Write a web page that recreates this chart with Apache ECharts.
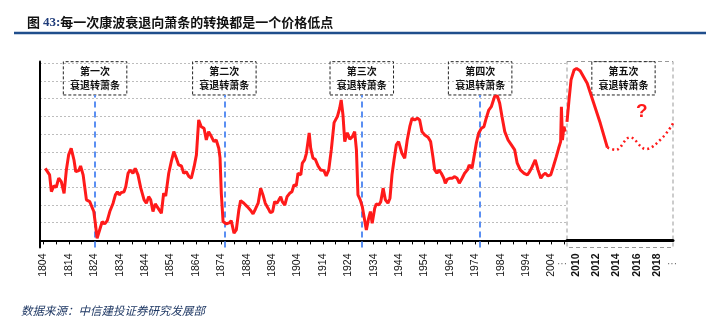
<!DOCTYPE html>
<html><head><meta charset="utf-8">
<script src="https://cdn.jsdelivr.net/npm/echarts@6/dist/echarts.min.js"></script>
<style>html,body{margin:0;padding:0;background:#fff}#c{width:720px;height:332px}</style>
</head><body><div id="c"></div>
<script>
// ---------- data ----------
const leftYears = [
 1804.7,1806.4,1807.1,1808.1,1809.0,1810.0,1811.0,1812.1,1813.0,1813.9,1814.9,1816.0,1816.7,1817.9,1818.6,1819.6,1820.9,1822.2,1822.8,1823.8,1824.4,1825.1,1826.1,1827.1,1828.1,1829.1,1830.1,1831.4,1832.3,1833.1,1833.8,1834.6,1835.7,1836.4,1837.3,1838.1,
 1839.2,1840.1,1841.2,1842.3,1843.6,1844.5,1845.4,1846.2,1847.1,1848.0,1849.1,1850.4,1851.3,1852.1,1853.3,1854.3,1855.3,1856.3,1857.2,1858.3,1859.2,1860.2,1861.3,1862.2,1863.3,1864.2,1865.1,1866.1,1867.2,1868.1,1869.0,1870.1,1871.1,1872.0,1873.0,1873.5,1874.0,1874.7,
 1876.0,1877.3,1877.9,1879.0,1879.9,1880.9,1881.6,1882.9,1884.2,1885.4,1886.5,1887.4,1888.5,1889.5,1890.4,1891.3,1892.4,1893.3,1894.2,1895.0,1895.9,1896.7,1897.4,1898.0,1899.0,1899.9,1900.9,1901.8,1902.6,1903.5,1904.2,1905.3,1905.9,1906.8,1907.5,1908.6,
 1909.2,1910.1,1911.0,1912.1,1913.1,1914.4,1915.3,1916.3,1917.3,1918.4,1919.7,1920.6,1921.2,1921.9,1922.6,1923.6,1924.6,1925.6,1926.5,1927.2,1927.8,1928.7,1929.5,1930.2,1931.1,1932.0,1932.7,1933.4,1934.4,1935.0,1936.0,1936.8,1937.7,1938.6,1939.6,1940.4,1941.2,1942.0,1942.9,1943.8,
 1945.1,1946.2,1947.2,1948.2,1949.1,1950.1,1951.2,1952.1,1953.0,1954.1,1955.4,1956.4,1957.3,1958.0,1958.9,1959.7,1960.6,1961.6,1962.2,1963.0,1963.9,1964.9,1965.9,1966.8,1967.7,1968.8,1969.8,1970.9,1971.6,1972.7,1973.5,1974.4,1975.3,1976.4,1977.4,1978.3,1979.3,
 1980.3,1981.6,1982.7,1983.6,1984.5,1985.6,1986.9,1988.2,1989.5,1990.5,1991.7,1993.2,1994.5,1995.4,1996.4,1997.6,1998.7,1999.8,2000.7,2001.6,2002.6,2003.7,2004.7,2005.9,2006.8,2007.6,2007.9,2008.3,2008.9,2009.4
];
const leftValues = [
 4.07,3.70,2.75,3.08,3.00,3.51,3.32,2.66,3.98,4.83,5.20,4.54,3.88,3.94,4.20,3.70,2.29,2.19,2.23,1.63,0.97,0.12,0.59,1.06,0.93,1.12,1.63,2.10,2.57,2.75,2.57,2.70,2.75,3.04,3.79,3.98,
 3.79,4.07,3.70,2.95,2.29,2.10,2.47,2.29,1.63,2.06,1.82,1.53,2.66,2.51,3.79,4.45,5.01,4.64,4.26,4.20,3.79,3.88,3.60,3.51,4.16,4.83,6.80,6.42,6.33,5.67,6.14,5.86,5.58,5.67,5.20,4.66,2.66,1.06,
 0.93,1.00,1.12,0.41,0.59,1.72,2.25,2.10,1.91,1.72,1.50,1.76,2.10,2.95,2.57,2.10,1.82,1.57,1.63,2.19,2.10,2.29,2.47,2.19,2.00,2.47,2.66,2.75,3.13,3.08,3.79,3.70,4.36,4.54,4.92,6.07,
 5.20,4.64,4.58,4.20,3.98,3.94,3.64,3.98,5.11,6.65,6.99,7.46,7.93,7.08,5.58,6.08,5.71,5.86,6.14,5.11,2.57,2.29,1.91,1.34,0.59,1.25,1.63,0.97,1.82,2.06,2.00,2.19,2.95,2.29,2.10,2.38,3.70,4.54,5.39,5.58,
 4.92,4.64,5.67,6.42,6.90,6.80,6.90,6.80,6.14,5.95,5.82,5.58,4.73,3.98,3.79,3.98,3.79,3.51,3.23,3.45,3.51,3.51,3.60,3.51,3.23,3.51,3.79,3.98,4.26,4.07,4.73,5.49,6.05,6.33,6.42,6.90,7.36,
 7.55,8.12,8.15,7.74,6.99,6.14,5.67,5.39,5.11,4.36,3.98,3.79,3.70,3.88,4.16,4.54,3.98,3.51,3.70,3.79,3.64,3.70,4.16,4.73,5.20,5.58,7.55,5.67,6.42,6.14
];
const rightYears  = [2009.1,2009.3,2009.5,2009.8,2010.05,2010.4,2011.1,2011.7,2012.4,2013.1];
const rightValues = [6.69,7.93,9.06,9.62,9.71,9.58,8.87,7.83,6.61,5.24];
const futureYears  = [2013.1,2013.9,2015.35,2016.9,2018.5,2019.6];
const futureValues = [5.24,5.11,5.82,5.16,5.77,6.61];

const leftLabelYears  = [1804,1814,1824,1834,1844,1854,1864,1874,1884,1894,1904,1914,1924,1934,1944,1954,1964,1974,1984,1994,2004];
const leftTickYears   = [1804,1809,1814,1819,1824,1829,1834,1839,1844,1849,1854,1859,1864,1869,1874,1879,1884,1889,1894,1899,1904,1909,1914,1919,1924,1929,1934,1939,1944,1949,1954,1959,1964,1969,1974,1979,1984,1989,1994,1999,2004,2009];
const rightLabelYears = [2010,2012,2014,2016,2018];
const gridValues = [0,1,2,3,4,5,6,7,8,9,10];

const transitionYears = [1824.3,1875.2,1929.3,1975.9];
const boxNames = ['第一次','第二次','第三次','第四次'];
const fifthBox = {name:'第五次', from:2011.56, to:2017.83};
const boxSubtitle = '衰退转萧条';
const boxBottom = 8.21, boxTop = 10.09, boxHalf = 12.5;
const questionPoint = [2016.5, 7.25];

// ---------- chart ----------
const zip = (a,b)=>a.map((v,i)=>[v,b[i]]);
const RED = '#ff1a1a';
const chart = echarts.init(document.getElementById('c'), null, {renderer:'canvas'});
const boxStyle = {color:'rgba(0,0,0,0)', borderColor:'#222', borderWidth:1, borderType:[3,2]};
const boxLabel = {show:true, position:'inside', color:'#111', fontSize:10, lineHeight:14,
  fontFamily:'Noto Sans CJK SC', fontWeight:'bold'};
const yearFmt = v => String(Math.round(v));

chart.setOption({
  animation:false,
  title:{
    left:22, top:11,
    text:'{a|图 }{b|43:}{a|每一次康波衰退向萧条的转换都是一个价格低点}',
    textStyle:{rich:{
      a:{fontSize:13, fontWeight:'bold', color:'#111', fontFamily:'Noto Sans CJK SC'},
      b:{fontSize:13, fontWeight:'bold', color:'#1f3c7a', fontFamily:'Liberation Serif'}
    }}
  },
  graphic:[
    {type:'line', shape:{x1:14,y1:33,x2:706,y2:33}, style:{stroke:'#1f4e8c', lineWidth:2.5}},
    {type:'text', left:21, top:305, style:{text:'数据来源：中信建投证券研究发展部', fill:'#1f3864',
      font:'italic 11.5px "Noto Sans CJK SC"'}},
    {type:'text', left:557, top:259, style:{text:'···', fill:'#666', font:'10px Liberation Sans'}},
    {type:'text', left:667, top:259, style:{text:'···', fill:'#666', font:'10px Liberation Sans'}}
  ],
  grid:[
    {left:40, top:61.5, width:527, height:186},
    {left:567, top:61.5, width:106, height:186, show:true, borderColor:'#999', borderWidth:1, borderType:[4,3], backgroundColor:'rgba(0,0,0,0)'}
  ],
  xAxis:[
    {type:'value', gridIndex:0, min:1802.62, max:2010.1,
     axisLine:{lineStyle:{color:'#000', width:2}},
     axisTick:{customValues:leftTickYears, length:4, lineStyle:{color:'#000'}},
     axisLabel:{customValues:leftLabelYears, formatter:yearFmt, rotate:90, margin:6, fontSize:10.5, color:'#111', fontFamily:'Liberation Sans'},
     splitLine:{show:false}},
    {type:'value', gridIndex:1, min:2009.1, max:2019.6,
     axisLine:{lineStyle:{color:'#000', width:3}},
     axisTick:{show:false, customValues:rightLabelYears},
     axisLabel:{customValues:rightLabelYears, formatter:yearFmt, rotate:90, margin:6, fontSize:10.5, fontWeight:'bold', color:'#111', fontFamily:'Liberation Sans'},
     splitLine:{show:false}}
  ],
  yAxis:[
    {type:'value', gridIndex:0, min:-0.4, max:10.1,
     axisLine:{show:true, lineStyle:{color:'#000', width:2}},
     axisTick:{show:false, customValues:gridValues},
     axisLabel:{show:false, customValues:gridValues},
     splitLine:{show:true, lineStyle:{color:'#bdbdbd', type:[2,2], width:1}}},
    {type:'value', gridIndex:1, min:-0.4, max:10.1,
     axisLine:{show:false}, axisTick:{show:false}, axisLabel:{show:false}, splitLine:{show:false}}
  ],
  series:[
    {type:'line', xAxisIndex:0, yAxisIndex:0, data:zip(leftYears,leftValues), symbol:'none',
     lineStyle:{color:RED, width:3}, z:5,
     markLine:{silent:true, symbol:'none', label:{show:false},
       lineStyle:{color:'#5b8ff2', type:[6,4], width:2},
       data:transitionYears.map(y=>[{coord:[y,-0.4]},{coord:[y,boxBottom]}])},
     markArea:{silent:true, itemStyle:boxStyle, label:boxLabel,
       data:transitionYears.map((y,i)=>[{name:boxNames[i]+'\n'+boxSubtitle, coord:[y-boxHalf,boxBottom]},{coord:[y+boxHalf,boxTop]}])}
    },
    {type:'line', xAxisIndex:1, yAxisIndex:1, data:zip(rightYears,rightValues), symbol:'none',
     lineStyle:{color:RED, width:3}, z:5,
     markArea:{silent:true, itemStyle:boxStyle, label:boxLabel,
       data:[[{name:fifthBox.name+'\n'+boxSubtitle, coord:[fifthBox.from,boxBottom]},{coord:[fifthBox.to,boxTop]}]]}
    },
    {type:'line', xAxisIndex:1, yAxisIndex:1, data:zip(futureYears,futureValues), symbol:'none', smooth:0.4,
     lineStyle:{color:RED, width:2.5, type:[2,3]}, z:5,
     markPoint:{symbol:'circle', symbolSize:1, itemStyle:{color:'rgba(0,0,0,0)'},
       label:{show:true, formatter:'?', color:RED, fontSize:19, fontWeight:'bold', fontFamily:'Liberation Sans'},
       data:[{coord:questionPoint}]}
    }
  ]
});
</script></body></html>
